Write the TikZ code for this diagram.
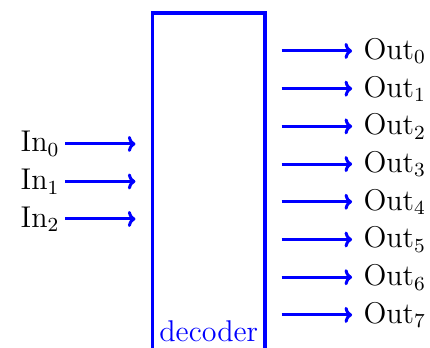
\documentclass[tikz,border=0pt]{standalone}
\usepackage{tikz}
\usetikzlibrary{arrows.meta, calc}

\begin{document}
\begin{tikzpicture}[scale=1.4058, font=\fontsize{12}{14}\selectfont,
	arr/.style={-{To[length=3pt, width=6.4pt]}, line width=1.2pt, blue},
	inlbl/.style={anchor=east, inner sep=0pt},
	outlbl/.style={anchor=west, inner sep=0pt}]
	\useasboundingbox (0,0) rectangle (4.30,3.47);

	% decoder block, runs off the bottom edge
	\node[draw=blue, line width=1.3pt, rectangle, minimum width=1.125*1.4058cm, minimum height=3.47*1.4058cm, inner sep=0pt](dec) at (2.0875,1.605) {};
	\node[anchor=base, text=blue](decl) at (2.0875,0.06) {decoder};

	\node[inlbl](in0) at (0.60,2.03) {In$_0$};
	\node[inlbl](in1) at (0.60,1.655) {In$_1$};
	\node[inlbl](in2) at (0.60,1.28) {In$_2$};

	\node[outlbl](out0) at (3.63,2.96) {Out$_0$};
	\node[outlbl](out1) at (3.63,2.583) {Out$_1$};
	\node[outlbl](out2) at (3.63,2.206) {Out$_2$};
	\node[outlbl](out3) at (3.63,1.829) {Out$_3$};
	\node[outlbl](out4) at (3.63,1.452) {Out$_4$};
	\node[outlbl](out5) at (3.63,1.075) {Out$_5$};
	\node[outlbl](out6) at (3.63,0.698) {Out$_6$};
	\node[outlbl](out7) at (3.63,0.321) {Out$_7$};

	\draw[arr, shorten <=2pt, shorten >=6.2pt] (in0.east) -- (dec.west |- in0.east);
	\draw[arr, shorten <=2pt, shorten >=6.2pt] (in1.east) -- (dec.west |- in1.east);
	\draw[arr, shorten <=2pt, shorten >=6.2pt] (in2.east) -- (dec.west |- in2.east);

	\draw[arr, shorten <=6pt, shorten >=4.4pt] (dec.east |- out0.west) -- (out0.west);
	\draw[arr, shorten <=6pt, shorten >=4.4pt] (dec.east |- out1.west) -- (out1.west);
	\draw[arr, shorten <=6pt, shorten >=4.4pt] (dec.east |- out2.west) -- (out2.west);
	\draw[arr, shorten <=6pt, shorten >=4.4pt] (dec.east |- out3.west) -- (out3.west);
	\draw[arr, shorten <=6pt, shorten >=4.4pt] (dec.east |- out4.west) -- (out4.west);
	\draw[arr, shorten <=6pt, shorten >=4.4pt] (dec.east |- out5.west) -- (out5.west);
	\draw[arr, shorten <=6pt, shorten >=4.4pt] (dec.east |- out6.west) -- (out6.west);
	\draw[arr, shorten <=6pt, shorten >=4.4pt] (dec.east |- out7.west) -- (out7.west);
\end{tikzpicture}
\end{document}
